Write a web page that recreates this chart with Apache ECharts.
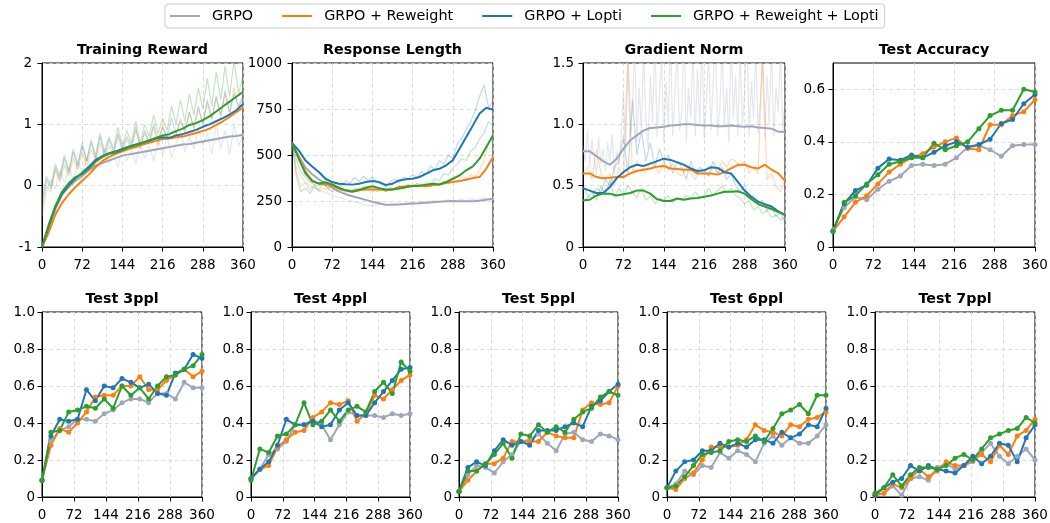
<!DOCTYPE html>
<html>
<head>
<meta charset="utf-8">
<script src="https://cdn.jsdelivr.net/npm/echarts@6/dist/echarts.min.js"></script>
<style>
  html, body { margin: 0; padding: 0; background: #ffffff; }
  #chart { width: 1050px; height: 523px; }
</style>
</head>
<body>
<div id="chart"></div>
<script>
// ---- Methods ----
const METHOD_NAMES = ['GRPO', 'GRPO + Reweight', 'GRPO + Lopti', 'GRPO + Reweight + Lopti'];

// ---- Training steps ----
const SMOOTH_STEPS = [0,12,24,36,48,60,72,84,96,108,120,132,144,156,168,180,192,204,216,228,240,252,264,276,288,300,312,324,336,348,360];
const RAW_STEPS = [0,8,16,24,32,40,48,56,64,72,80,88,96,104,112,120,128,136,144,152,160,168,176,184,192,200,208,216,224,232,240,248,256,264,272,280,288,296,304,312,320,328,336,344,352,360];
const RAW_STEPS_FINE = Array.from({ length: 91 }, (_, i) => i * 4);
const EVAL_STEPS = [0,20,40,60,80,100,120,140,160,180,200,220,240,260,280,300,320,340,360];

// ---- Training reward (smoothed) ----
const rewardGRPO     = [-1,-0.68,-0.38,-0.15,-0.02,0.08,0.16,0.25,0.33,0.37,0.41,0.45,0.49,0.51,0.53,0.55,0.57,0.59,0.61,0.63,0.65,0.67,0.68,0.7,0.72,0.74,0.76,0.78,0.8,0.81,0.83];
const rewardReweight = [-1,-0.76,-0.47,-0.28,-0.14,-0.02,0.08,0.18,0.3,0.4,0.47,0.52,0.56,0.6,0.63,0.67,0.7,0.73,0.76,0.77,0.79,0.8,0.83,0.86,0.89,0.93,0.99,1.05,1.12,1.2,1.27];
const rewardLopti    = [-1,-0.66,-0.35,-0.13,0.01,0.12,0.21,0.31,0.42,0.48,0.53,0.56,0.6,0.64,0.67,0.7,0.73,0.77,0.79,0.78,0.82,0.84,0.875,0.91,0.96,1.0,1.05,1.1,1.16,1.23,1.33];
const rewardBoth     = [-1,-0.64,-0.33,-0.1,0.04,0.14,0.19,0.28,0.39,0.47,0.52,0.54,0.58,0.63,0.66,0.7,0.74,0.78,0.82,0.84,0.89,0.93,0.99,1.02,1.07,1.13,1.21,1.29,1.37,1.45,1.53];
// ---- Training reward (raw) ----
const rewardRawGRPO     = [-0.5,-0.1,0.1,-0.05,0.25,0.05,0.3,0.1,0.4,0.2,0.45,0.25,0.5,0.3,0.6,0.35,0.55,0.3,0.65,0.4,0.6,0.35,0.7,0.45,0.65,0.4,0.75,0.5,0.8,0.45,0.7,0.9,0.55,0.8,0.6,0.95,0.65,0.85,0.5,1.0,0.6,0.9,0.5,1.0,0.65,0.85];
const rewardRawReweight = [-0.4,0.0,-0.1,0.25,0.05,0.35,0.15,0.45,0.25,0.55,0.3,0.6,0.4,0.7,0.45,0.65,0.5,0.8,0.55,0.75,0.6,0.9,0.65,0.85,0.7,0.95,0.65,1.0,0.75,0.9,0.8,1.1,0.85,1.2,0.9,1.25,1.0,1.35,1.05,1.45,1.1,1.5,1.15,1.6,1.25,1.45];
const rewardRawLopti    = [-0.3,0.1,-0.05,0.3,0.1,0.45,0.2,0.55,0.3,0.65,0.4,0.7,0.45,0.8,0.5,0.75,0.55,0.85,0.6,0.8,0.65,0.95,0.6,0.9,0.7,1.0,0.75,0.95,0.8,1.1,0.85,1.05,0.9,1.2,0.95,1.3,1.0,1.4,1.1,1.45,1.15,1.55,1.2,1.5,1.3,1.45];
const rewardRawBoth     = [-0.2,0.15,0.0,0.35,0.15,0.5,0.25,0.6,0.35,0.7,0.4,0.75,0.5,0.85,0.55,0.8,0.6,0.95,0.65,0.9,0.7,1.05,0.7,1.0,0.8,1.15,0.85,1.1,0.9,1.3,1.0,1.4,1.05,1.5,1.15,1.6,1.25,1.75,1.3,1.85,1.4,1.95,1.45,2.05,1.5,1.8];

// ---- Response length (smoothed) ----
const lengthGRPO     = [565,495,432,395,368,345,322,302,287,276,266,256,246,238,230,229,231,234,237,238,240,243,246,248,250,249,248,249,252,257,262];
const lengthReweight = [565,490,410,362,344,339,331,317,308,304,312,312,313,312,308,313,326,330,333,333,330,335,340,348,353,359,366,375,380,426,489];
const lengthLopti    = [565,525,471,438,408,371,353,344,341,339,344,353,359,353,337,344,362,368,371,380,398,417,425,444,471,534,598,661,725,757,746];
const lengthBoth     = [565,480,400,358,345,352,340,322,308,300,308,322,330,320,312,312,318,325,331,333,338,344,340,353,371,389,417,438,480,543,607];
// ---- Response length (raw) ----
const lengthRawGRPO     = [565,430,385,350,335,320,310,300,292,282,272,268,258,252,246,240,232,226,222,230,234,226,230,238,234,230,240,244,238,248,244,250,254,246,250,258,250,254,260,250,264,256,260,268,262,258];
const lengthRawReweight = [565,400,330,350,310,340,300,320,310,330,300,315,295,310,300,320,305,315,300,320,310,305,325,315,330,320,340,325,345,330,340,325,350,335,360,345,370,355,385,370,395,380,420,470,560,600];
const lengthRawLopti    = [565,470,410,380,355,340,330,345,320,335,350,330,360,345,380,355,385,360,380,350,340,325,355,370,350,380,370,395,375,410,395,440,420,470,450,500,480,560,590,640,680,740,820,880,760,790];
const lengthRawBoth     = [565,380,300,320,290,330,310,345,320,300,325,305,310,295,320,305,330,310,325,300,315,300,320,310,335,320,340,330,345,330,350,340,370,360,400,390,430,450,480,470,520,540,590,620,680,660];

// ---- Gradient norm (smoothed) ----
const gradGRPO     = [0.78,0.78,0.74,0.7,0.67,0.72,0.8,0.87,0.91,0.95,0.97,0.975,0.98,0.99,0.995,1.0,1.0,0.995,0.99,0.99,0.985,0.985,0.99,0.985,0.98,0.985,0.975,0.97,0.965,0.94,0.94];
const gradReweight = [0.6,0.6,0.57,0.56,0.565,0.57,0.57,0.6,0.62,0.63,0.64,0.655,0.66,0.64,0.635,0.63,0.63,0.6,0.6,0.6,0.59,0.61,0.64,0.67,0.67,0.65,0.64,0.67,0.63,0.6,0.54];
const gradLopti    = [0.48,0.46,0.44,0.44,0.49,0.56,0.61,0.65,0.67,0.66,0.68,0.7,0.72,0.71,0.69,0.67,0.64,0.62,0.625,0.65,0.645,0.61,0.6,0.53,0.46,0.41,0.37,0.35,0.33,0.29,0.26];
const gradBoth     = [0.38,0.385,0.42,0.435,0.435,0.42,0.43,0.44,0.46,0.46,0.435,0.39,0.375,0.375,0.395,0.385,0.395,0.4,0.41,0.42,0.435,0.45,0.45,0.455,0.435,0.39,0.35,0.33,0.31,0.285,0.265];
// ---- Gradient norm (raw; GRPO logged on the finer 4-step grid) ----
const gradRawGRPO     = [0.82,0.7,0.95,0.65,0.88,0.72,0.6,0.9,0.68,0.8,0.62,0.85,0.7,0.92,0.6,0.78,0.66,0.9,
                         1.25,0.8,1.5,0.9,1.1,1.7,0.85,1.3,0.95,1.6,1.05,0.8,1.4,1.0,1.75,0.9,1.2,1.55,0.85,1.35,
                         1.0,1.7,0.9,1.25,1.6,0.95,1.1,1.8,0.85,1.3,1.05,1.6,0.9,1.45,1.0,1.7,0.88,1.2,1.55,0.95,
                         1.35,1.75,0.9,1.15,1.6,1.0,1.3,0.85,1.7,1.05,1.4,0.9,1.6,1.0,1.25,1.8,0.9,1.35,1.05,1.65,
                         0.92,1.2,1.5,0.88,1.4,1.0,1.7,0.9,1.3,1.1,1.6,0.95,1.2];
const gradRawReweight = [0.6,0.65,0.55,0.8,0.6,0.55,0.6,0.5,0.65,0.55,1.6,0.6,0.7,0.65,0.6,0.7,0.65,0.6,0.7,0.62,0.68,0.6,0.58,0.65,0.6,0.55,0.62,0.6,0.58,0.65,0.6,0.7,0.65,0.72,0.7,0.65,0.7,0.6,0.65,0.6,1.6,0.55,0.6,0.5,0.45,0.55];
const gradRawLopti    = [0.5,0.42,0.4,0.48,0.45,0.55,0.5,0.65,0.7,0.9,0.6,1.2,0.75,0.95,0.7,0.85,0.65,0.8,0.7,0.75,0.6,0.7,0.65,0.55,0.7,0.6,0.65,0.62,0.58,0.7,0.6,0.65,0.55,0.6,0.5,0.45,0.5,0.4,0.42,0.35,0.38,0.3,0.32,0.25,0.28,0.2];
const gradRawBoth     = [0.38,0.4,0.45,0.38,0.5,0.42,0.55,0.4,0.48,0.42,0.5,0.45,0.4,0.48,0.38,0.42,0.35,0.4,0.38,0.42,0.36,0.4,0.38,0.42,0.4,0.45,0.4,0.42,0.48,0.42,0.46,0.5,0.44,0.48,0.42,0.4,0.35,0.38,0.3,0.33,0.27,0.3,0.24,0.26,0.22,0.25];

// ---- Test accuracy ----
const accGRPO     = [0.065,0.15,0.19,0.18,0.22,0.25,0.27,0.31,0.315,0.31,0.315,0.34,0.38,0.385,0.37,0.345,0.385,0.39,0.39];
const accReweight = [0.06,0.115,0.17,0.195,0.24,0.285,0.315,0.34,0.355,0.38,0.4,0.415,0.375,0.37,0.465,0.465,0.5,0.515,0.56];
const accLopti    = [0.06,0.165,0.215,0.235,0.3,0.335,0.33,0.35,0.34,0.36,0.385,0.4,0.38,0.39,0.41,0.47,0.485,0.545,0.58];
const accBoth     = [0.06,0.17,0.195,0.24,0.275,0.315,0.325,0.34,0.34,0.395,0.37,0.385,0.4,0.45,0.5,0.52,0.52,0.6,0.59];

// ---- Test 3ppl ----
const ppl3GRPO     = [0.09,0.3,0.36,0.38,0.42,0.42,0.41,0.45,0.47,0.51,0.53,0.53,0.51,0.56,0.56,0.53,0.62,0.59,0.59];
const ppl3Reweight = [0.09,0.28,0.37,0.35,0.4,0.46,0.54,0.55,0.55,0.6,0.6,0.65,0.58,0.58,0.63,0.66,0.69,0.65,0.68];
const ppl3Lopti    = [0.09,0.33,0.42,0.41,0.42,0.58,0.52,0.6,0.59,0.64,0.62,0.59,0.61,0.56,0.55,0.67,0.69,0.77,0.75];
const ppl3Both     = [0.09,0.35,0.36,0.46,0.47,0.49,0.48,0.53,0.48,0.6,0.55,0.59,0.53,0.6,0.65,0.66,0.69,0.71,0.77];

// ---- Test 4ppl ----
const ppl4GRPO     = [0.1,0.15,0.23,0.26,0.3,0.39,0.39,0.42,0.39,0.31,0.39,0.46,0.44,0.44,0.44,0.43,0.45,0.44,0.45];
const ppl4Reweight = [0.1,0.15,0.17,0.27,0.31,0.35,0.36,0.43,0.46,0.51,0.5,0.52,0.41,0.45,0.55,0.53,0.58,0.63,0.66];
const ppl4Lopti    = [0.1,0.15,0.19,0.28,0.42,0.39,0.39,0.41,0.38,0.39,0.47,0.51,0.44,0.44,0.51,0.57,0.63,0.69,0.7];
const ppl4Both     = [0.09,0.26,0.24,0.33,0.34,0.39,0.51,0.39,0.41,0.47,0.41,0.47,0.49,0.46,0.57,0.62,0.56,0.73,0.68];

// ---- Test 5ppl ----
const ppl5GRPO     = [0.03,0.12,0.17,0.16,0.13,0.19,0.23,0.3,0.31,0.34,0.29,0.25,0.34,0.35,0.31,0.3,0.34,0.33,0.31];
const ppl5Reweight = [0.03,0.09,0.14,0.18,0.18,0.21,0.3,0.3,0.3,0.3,0.35,0.33,0.32,0.32,0.47,0.51,0.5,0.51,0.6];
const ppl5Lopti    = [0.03,0.16,0.19,0.17,0.25,0.31,0.28,0.3,0.28,0.36,0.36,0.36,0.38,0.4,0.38,0.49,0.52,0.57,0.61];
const ppl5Both     = [0.03,0.14,0.14,0.18,0.23,0.29,0.21,0.34,0.33,0.39,0.35,0.38,0.35,0.42,0.46,0.48,0.54,0.57,0.55];

// ---- Test 6ppl ----
const ppl6GRPO     = [0.05,0.07,0.14,0.12,0.17,0.16,0.24,0.21,0.25,0.23,0.19,0.29,0.33,0.28,0.32,0.29,0.29,0.33,0.39];
const ppl6Reweight = [0.05,0.04,0.1,0.13,0.2,0.27,0.27,0.27,0.28,0.31,0.39,0.36,0.35,0.33,0.39,0.38,0.42,0.43,0.46];
const ppl6Lopti    = [0.05,0.14,0.19,0.2,0.25,0.25,0.29,0.27,0.29,0.27,0.31,0.31,0.29,0.35,0.32,0.34,0.39,0.38,0.48];
const ppl6Both     = [0.05,0.06,0.11,0.17,0.23,0.24,0.25,0.3,0.31,0.3,0.33,0.3,0.37,0.45,0.47,0.5,0.45,0.55,0.55];

// ---- Test 7ppl ----
const ppl7GRPO     = [0.01,0.02,0.06,0.01,0.1,0.11,0.09,0.16,0.18,0.15,0.17,0.19,0.24,0.29,0.22,0.18,0.22,0.26,0.2];
const ppl7Reweight = [0.01,0.02,0.07,0.05,0.1,0.15,0.11,0.14,0.19,0.17,0.17,0.2,0.23,0.19,0.28,0.23,0.33,0.36,0.42];
const ppl7Lopti    = [0.01,0.05,0.08,0.1,0.17,0.14,0.17,0.15,0.14,0.13,0.17,0.22,0.18,0.22,0.29,0.28,0.19,0.32,0.39];
const ppl7Both     = [0.02,0.05,0.12,0.06,0.12,0.16,0.16,0.15,0.17,0.21,0.23,0.2,0.26,0.32,0.34,0.36,0.37,0.43,0.4];

// ---- Styling ----
const FONT = 'DejaVu Sans';
const TICK_FONT = 13.5;
const TITLE_FONT = 14.3;
const LEGEND_FONT = 14.4;
const COLORS = ['#9fa8ba', '#ff7f0e', '#1f77b4', '#2ca02c'];

const oneDecimal = v => (v === 0 ? '0' : v.toFixed(1));
const plain = v => String(v);

const raw4 = (steps, a, b, c, d) => [a, b, c, d].map(vals => ({ steps, vals }));

const panels = [
  { title: 'Training Reward', rect: [42, 63, 201, 184], ym: 10, y: { min: -1, max: 2, interval: 1 }, fmt: plain,
    steps: SMOOTH_STEPS, lines: [rewardGRPO, rewardReweight, rewardLopti, rewardBoth],
    raw: raw4(RAW_STEPS, rewardRawGRPO, rewardRawReweight, rewardRawLopti, rewardRawBoth) },
  { title: 'Response Length', rect: [292, 63, 201, 184], ym: 10, y: { min: 0, max: 1000, interval: 250 }, fmt: plain,
    steps: SMOOTH_STEPS, lines: [lengthGRPO, lengthReweight, lengthLopti, lengthBoth],
    raw: raw4(RAW_STEPS, lengthRawGRPO, lengthRawReweight, lengthRawLopti, lengthRawBoth) },
  { title: 'Gradient Norm', rect: [583, 63, 202, 184], ym: 9, y: { min: 0, max: 1.5, interval: 0.5 }, fmt: oneDecimal,
    steps: SMOOTH_STEPS, lines: [gradGRPO, gradReweight, gradLopti, gradBoth],
    raw: [{ steps: RAW_STEPS_FINE, vals: gradRawGRPO }].concat(
         raw4(RAW_STEPS, gradRawReweight, gradRawLopti, gradRawBoth, null).slice(0, 3)) },
  { title: 'Test Accuracy', rect: [833, 63, 202, 184], ym: 8, y: { min: 0, max: 0.7, interval: 0.2, ticks: [0, 0.2, 0.4, 0.6] }, fmt: oneDecimal,
    steps: EVAL_STEPS, markers: true, lines: [accGRPO, accReweight, accLopti, accBoth] },
  { title: 'Test 3ppl', rect: [42, 312, 160, 185], ym: 7, y: { min: 0, max: 1, interval: 0.2 }, fmt: oneDecimal,
    steps: EVAL_STEPS, markers: true, lines: [ppl3GRPO, ppl3Reweight, ppl3Lopti, ppl3Both] },
  { title: 'Test 4ppl', rect: [251, 312, 159, 185], ym: 7, y: { min: 0, max: 1, interval: 0.2 }, fmt: oneDecimal,
    steps: EVAL_STEPS, markers: true, lines: [ppl4GRPO, ppl4Reweight, ppl4Lopti, ppl4Both] },
  { title: 'Test 5ppl', rect: [459, 312, 159, 185], ym: 7, y: { min: 0, max: 1, interval: 0.2 }, fmt: oneDecimal,
    steps: EVAL_STEPS, markers: true, lines: [ppl5GRPO, ppl5Reweight, ppl5Lopti, ppl5Both] },
  { title: 'Test 6ppl', rect: [667, 312, 159, 185], ym: 7, y: { min: 0, max: 1, interval: 0.2 }, fmt: oneDecimal,
    steps: EVAL_STEPS, markers: true, lines: [ppl6GRPO, ppl6Reweight, ppl6Lopti, ppl6Both] },
  { title: 'Test 7ppl', rect: [875, 312, 160, 185], ym: 7, y: { min: 0, max: 1, interval: 0.2 }, fmt: oneDecimal,
    steps: EVAL_STEPS, markers: true, lines: [ppl7GRPO, ppl7Reweight, ppl7Lopti, ppl7Both] }
];

const pairs = (steps, vals) => steps.map((s, i) => [s, vals[i]]);

const grids = [], xAxes = [], yAxes = [], titles = [], series = [];
const splitLine = { show: true, lineStyle: { color: '#d6d6d6', width: 0.8, type: [4, 3] } };
const tick = { show: true, inside: false, length: 4.5, lineStyle: { color: '#000', width: 1 } };
const label = { color: '#000', fontFamily: FONT, fontSize: TICK_FONT };

panels.forEach((p, gi) => {
  const [left, top, width, height] = p.rect;
  grids.push({ left, top, width, height, show: true, borderColor: '#000', borderWidth: 1,
               backgroundColor: 'transparent', containLabel: false, outerBoundsMode: 'none' });
  xAxes.push({ gridIndex: gi, type: 'value', min: 0, max: 360, interval: 72,
               axisLine: { show: true, onZero: false, lineStyle: { color: '#000', width: 1 } },
               axisTick: tick, splitLine,
               axisLabel: Object.assign({ margin: 11, showMinLabel: true, showMaxLabel: true, hideOverlap: false }, label) });
  const yAxis = { gridIndex: gi, type: 'value', min: p.y.min, max: p.y.max, interval: p.y.interval,
               axisLine: { show: true, onZero: false, lineStyle: { color: '#000', width: 1 } },
               axisTick: Object.assign({}, tick), splitLine,
               axisLabel: Object.assign({ margin: p.ym, formatter: p.fmt, hideOverlap: false }, label) };
  if (p.y.ticks) {
    yAxis.axisTick.customValues = p.y.ticks;
    yAxis.axisLabel.customValues = p.y.ticks;
  }
  yAxes.push(yAxis);
  titles.push({ text: p.title, left: left + width / 2, top: top - 20, textAlign: 'center', padding: 0,
                textStyle: { fontFamily: FONT, fontSize: TITLE_FONT, fontWeight: 'bold', color: '#000' } });

  // faint per-step traces underneath the smoothed curves
  if (p.raw) {
    p.raw.forEach((r, k) => {
      series.push({ type: 'line', name: METHOD_NAMES[k] + ' (raw)', xAxisIndex: gi, yAxisIndex: gi,
        data: pairs(r.steps, r.vals), symbol: 'none', silent: true, clip: true, z: 1,
        lineStyle: { color: COLORS[k], width: 1.2, opacity: 0.28 }, itemStyle: { color: COLORS[k] },
        emphasis: { disabled: true } });
    });
  }
  p.lines.forEach((vals, k) => {
    series.push({ type: 'line', name: METHOD_NAMES[k], xAxisIndex: gi, yAxisIndex: gi,
      data: pairs(p.steps, vals), clip: true, z: 2,
      symbol: p.markers ? 'circle' : 'none', symbolSize: 5, showSymbol: !!p.markers,
      lineStyle: { color: COLORS[k], width: 2 }, itemStyle: { color: COLORS[k] },
      emphasis: { disabled: true } });
  });
});

const chart = echarts.init(document.getElementById('chart'), null, { renderer: 'canvas' });
chart.setOption({
  animation: false,
  backgroundColor: '#ffffff',
  title: titles,
  legend: {
    data: METHOD_NAMES, left: 165, top: 4, icon: 'rect', itemWidth: 30, itemHeight: 2, itemGap: 29,
    padding: [5, 6, 5, 5], borderColor: '#cccccc', borderWidth: 1, borderRadius: 3, backgroundColor: '#ffffff',
    selectedMode: false,
    textStyle: { fontFamily: FONT, fontSize: LEGEND_FONT, color: '#000', padding: [0, 0, 0, 7] }
  },
  grid: grids,
  xAxis: xAxes,
  yAxis: yAxes,
  series
});
</script>
</body>
</html>
